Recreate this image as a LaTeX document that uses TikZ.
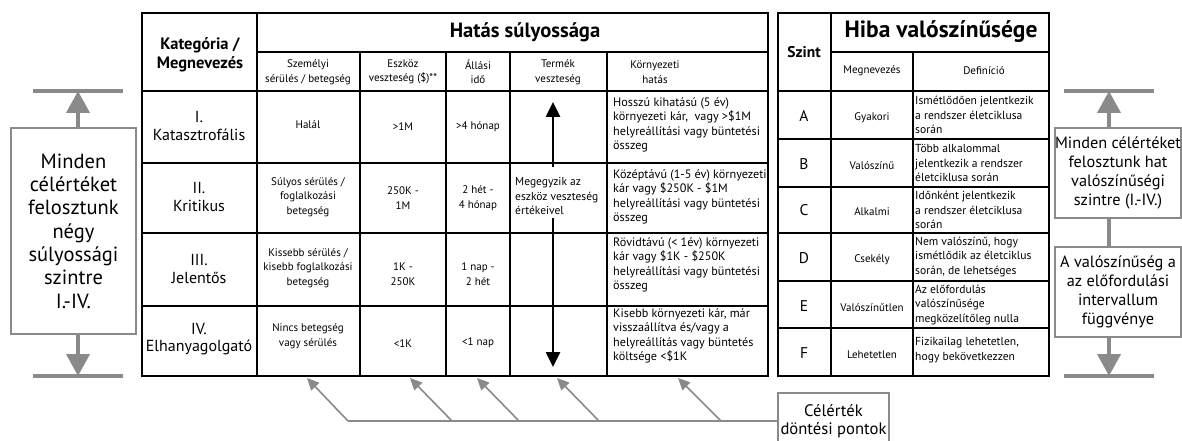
\documentclass[tikz,border=0pt]{standalone}
\usepackage{fontspec}
\setmainfont{PT Sans}
\usetikzlibrary{
  positioning,
  calc,
  arrows.meta
}
\definecolor{gline}{HTML}{8A8A8A}
\tikzset{
  >=Triangle,
  tl/.style = {line width=1.6pt, black},
  hd/.style = {font=\bfseries\fontsize{20.6}{24}\selectfont},
  bh/.style = {align=center, font=\bfseries\fontsize{16.5}{19}\selectfont},
  cat/.style = {align=center, font=\fontsize{16}{17.5}\selectfont},
  sub/.style = {align=center, font=\fontsize{11}{14.5}\selectfont},
  env/.style = {align=left, anchor=west, inner sep=0pt, font=\fontsize{12.2}{14.5}\selectfont},
  def/.style = {align=left, anchor=west, inner sep=0pt, font=\fontsize{11.6}{14.5}\selectfont},
  lvl/.style = {font=\fontsize{15.5}{18}\selectfont},
  gbox/.style = {draw=gline, line width=2pt, align=center, inner sep=0pt},
  gbar/.style = {draw=gline, line width=3.5pt},
  garrow/.style = {draw=gline, line width=4pt, -{Triangle[length=22pt, width=23pt]}},
  parrow/.style = {draw=gline, line width=1.6pt, -{Triangle[length=12pt, width=11pt]}},
  barrow/.style = {draw=black, line width=2.6pt, -{Triangle[length=15pt, width=14pt]}}
}

\begin{document}
\begin{tikzpicture}[x=1pt, y=-1pt]
  \useasboundingbox (0,0) rectangle (1182,441);
  \clip (0,0) rectangle (1182,441);
  \draw [tl] (142,13) rectangle (768,376)
    (257,13) -- (257,376)
    \foreach \x in {360,446,510,607} {(\x,52) -- (\x,376)}
    (257,52) -- (768,52)
    \foreach \y in {91,163,233,306} {(142,\y) -- (768,\y)};
  \draw [tl] (778,13) rectangle (1049,376)
    (831,13) -- (831,376)
    (913,52) -- (913,376)
    (831,52) -- (1049,52)
    \foreach \y in {91,139,187,233,281,328} {(778,\y) -- (1049,\y)};
  \path
    (200,55) node [bh] (kat) {Kategória /\\Megnevezés}
    (525,32) node [hd] (hatas) {Hatás súlyossága}
    (308,72) node [sub] (szem) {Személyi\\sérülés / betegség}
    (403,72) node [sub] (eszk) {Eszköz\\veszteség (\$)**}
    (478,72) node [sub] (allas) {Állási\\idő}
    (558,72) node [sub] (term) {Termék\\veszteség}
    (655,72) node [sub] (korny) {Környezeti\\hatás}
    (199,126) node [cat] (k1) {I.\\Katasztrofális}
    (199,197) node [cat] (k2) {II.\\Kritikus}
    (199,269) node [cat] (k3) {III.\\Jelentős}
    (199,339) node [cat] (k4) {IV.\\Elhanyagolgató}
    (308,125) node [sub] (s1) {Halál}
    (308,197) node [sub] (s2) {Súlyos sérülés /\\foglalkozási\\betegség}
    (308,268) node [sub] (s3) {Kissebb sérülés /\\kisebb foglalkozási\\betegség}
    (308,336) node [sub] (s4) {Nincs betegség\\vagy sérülés}
    (403,127) node [sub] (e1) {>1M}
    (403,198) node [sub] (e2) {250K -\\1M}
    (403,274) node [sub] (e3) {1K -\\250K}
    (403,344) node [sub] (e4) {<1K}
    (478,127) node [sub] (a1) {>4 hónap}
    (478,198) node [sub] (a2) {2 hét -\\4 hónap}
    (478,274) node [sub] (a3) {1 nap -\\2 hét}
    (478,343) node [sub] (a4) {<1 nap}
    (515,196) node [env, font=\fontsize{11.5}{14.5}\selectfont] (meg) {Megegyzik az\\eszköz veszteség\\értékeivel}
    (613,125) node [env] (h1) {Hosszú kihatású (5 év)\\környezeti kár,~ vagy >\$1M\\helyreállítási vagy büntetési\\összeg}
    (613,197) node [env] (h2) {Középtávú (1-5 év) környezeti\\kár vagy \$250K - \$1M\\helyreállítási vagy büntetési\\összeg}
    (613,265) node [env] (h3) {Rövidtávú (< 1év) környezeti\\kár vagy \$1K - \$250K\\helyreállítási vagy büntetési\\összeg}
    (613,336) node [env] (h4) {Kisebb környezeti kár, már\\visszaállítva és/vagy a\\helyreállítás vagy büntetés\\költsége <\$1K};
  \coordinate (up0) at (553,167);
  \coordinate (up1) at (553,102);
  \coordinate (dn0) at (553,218);
  \coordinate (dn1) at (553,367);
  \draw [barrow] (up0) -- (up1);
  \draw [barrow] (dn0) -- (dn1);
  \path
    (804,52) node [bh, font=\bfseries\fontsize{15.5}{18}\selectfont] (szint) {Szint}
    (941,32) node [hd, font=\bfseries\fontsize{23.5}{26}\selectfont] (hiba) {Hiba valószínűsége}
    (872,71) node [sub] (mnev) {Megnevezés}
    (984,71) node [sub] (defi) {Definíció}
    (804,116) node [lvl] (la) {A}
    (804,164) node [lvl] (lb) {B}
    (804,210) node [lvl] (lc) {C}
    (804,258) node [lvl] (ld) {D}
    (804,306) node [lvl] (le) {E}
    (804,353) node [lvl] (lf) {F}
    (872,118) node [sub] (na) {Gyakori}
    (872,166) node [sub] (nb) {Valószínű}
    (872,212) node [sub] (nc) {Alkalmi}
    (872,260) node [sub] (nd) {Csekély}
    (872,308) node [sub] (ne) {Valószínűtlen}
    (872,355) node [sub] (nf) {Lehetetlen}
    (915,115) node [def] (da) {Ismétlődően jelentkezik\\a rendszer életciklusa\\során}
    (915,163) node [def] (db) {Több alkalommal\\jelentkezik a rendszer\\életciklusa során}
    (915,210) node [def] (dc) {Időnként jelentkezik\\a rendszer életciklusa\\során}
    (915,257) node [def] (dd) {Nem valószínű, hogy\\ismétlődik az életciklus\\során, de lehetséges}
    (915,305) node [def] (de) {Az előfordulás\\valószínűsége\\megközelítőleg nulla}
    (915,350) node [def] (df) {Fizikailag lehetetlen,\\hogy bekövetkezzen};
  \node [gbox, minimum width=125pt, minimum height=206pt,
    font=\fontsize{20.5}{23.3}\selectfont] (lbox) at (73.5,231)
    {Minden\\célértéket\\felosztunk\\négy\\súlyossági\\szintre\\I.-IV.};
  \coordinate (ltop) at (78,91);
  \coordinate (lbot) at (78,376);
  \draw [gbar] (33,91) -- (123,91) (33,376) -- (123,376);
  \draw [garrow] (lbox.north -| ltop) -- (ltop);
  \draw [garrow] (lbox.south -| lbot) -- (lbot);
  \node [gbox, minimum width=126pt, minimum height=90pt,
    font=\fontsize{16.3}{18.8}\selectfont] (rbox1) at (1118,173)
    {Minden célértéket\\felosztunk hat\\valószínűségi\\szintre (I.-IV.)};
  \node [gbox, minimum width=126pt, minimum height=90pt,
    font=\fontsize{16.3}{18.8}\selectfont] (rbox2) at (1118,292)
    {A valószínűség a\\az előfordulási\\intervallum\\függvénye};
  \coordinate (rtop) at (1109,91);
  \coordinate (rbot) at (1109,376);
  \draw [gbar] (1064,91) -- (1154,91) (1064,376) -- (1154,376);
  \draw [garrow] (rbox1.north -| rtop) -- (rtop);
  \draw [gbar] (rbox1.south -| rtop) -- (rbox2.north -| rtop);
  \draw [garrow] (rbox2.south -| rbot) -- (rbot);
  \node [gbox, minimum width=111pt, minimum height=56pt,
    font=\fontsize{16.6}{18.5}\selectfont] (dp) at (833.5,421)
    {Célérték\\döntési pontok};
  \coordinate (j0) at (348,421);
  \draw [draw=gline, line width=1.6pt] (dp.west) -- (j0);
  \foreach \a/\b [count=\i] in {348/307, 452/410, 519/477, 599/557, 721/678} {
    \coordinate (s\i) at (\a,421);
    \coordinate (t\i) at (\b,378);
    \draw [parrow] (s\i) -- (t\i);
  }
\end{tikzpicture}
\end{document}
